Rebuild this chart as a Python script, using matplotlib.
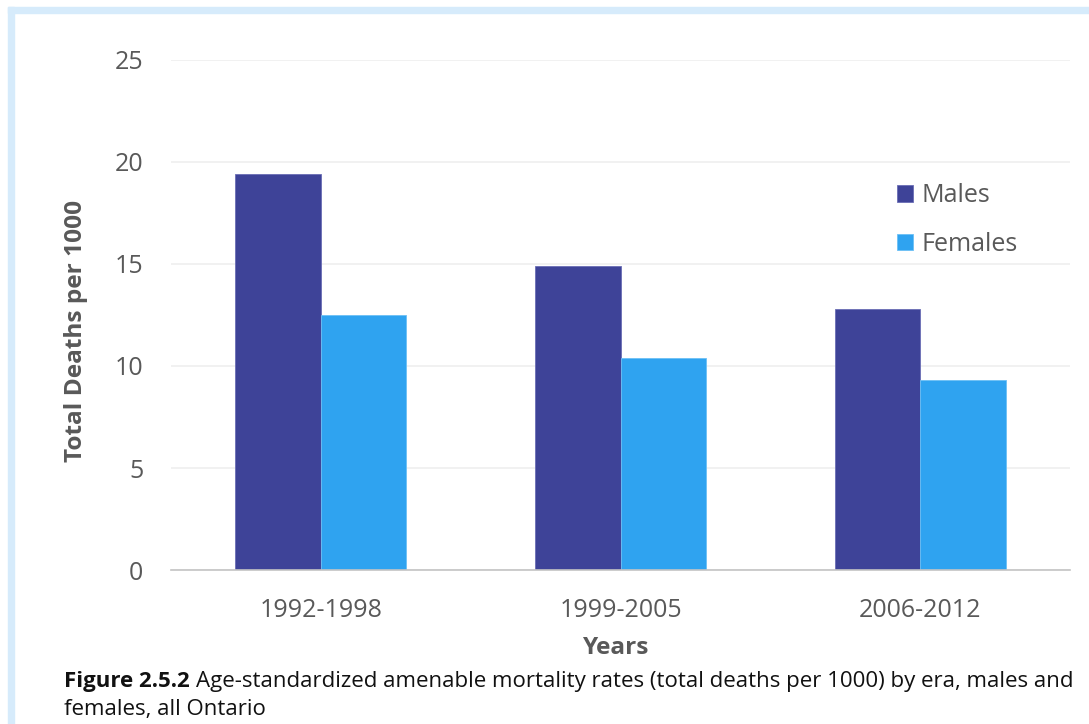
import matplotlib.pyplot as plt
import numpy as np
from matplotlib.patches import Rectangle

plt.rcParams['font.family'] = ['Open Sans', 'DejaVu Sans']

ERAS = ['1992-1998', '1999-2005', '2006-2012']
MALES = [19.4, 14.9, 12.8]
FEMALES = [12.5, 10.4, 9.3]
Y_TICKS = [0, 5, 10, 15, 20, 25]

MALE_COLOR = '#3e4398'
FEMALE_COLOR = '#2fa3f0'
TEXT_GREY = '#595959'
FRAME_COLOR = '#d6ebfb'

W, H = 1089, 724
fig = plt.figure(figsize=(W / 100, H / 100), dpi=100)

# light blue frame, only top and left visible
fig.patches.append(Rectangle((8 / W, 0), 6 / W, (H - 7) / H, transform=fig.transFigure,
                             color=FRAME_COLOR, zorder=0))
fig.patches.append(Rectangle((8 / W, (H - 13) / H), 1, 6 / H, transform=fig.transFigure,
                             color=FRAME_COLOR, zorder=0))

left, right, top, bottom = 171, 1070, 60, 570
ax = fig.add_axes([left / W, (H - bottom) / H, (right - left) / W, (bottom - top) / H])

x = np.arange(len(ERAS))
width = 0.285
ax.bar(x - width / 2, MALES, width, color=MALE_COLOR, edgecolor='#6a6db5', linewidth=0.6,
       label='Males', zorder=3)
ax.bar(x + width / 2, FEMALES, width, color=FEMALE_COLOR, edgecolor='#6cc0f5', linewidth=0.6,
       label='Females', zorder=3)

ax.set_xlim(-0.5, len(ERAS) - 0.5)
ax.set_ylim(0, 25)
ax.set_yticks(Y_TICKS)
ax.set_xticks(x)
ax.set_xticklabels(ERAS)
ax.tick_params(axis='both', length=0, labelsize=18, labelcolor=TEXT_GREY)
ax.tick_params(axis='y', pad=20)
ax.tick_params(axis='x', pad=20)
ax.grid(axis='y', color='#efefef', linewidth=1.2, zorder=0)
for s in ['top', 'right', 'left']:
    ax.spines[s].set_visible(False)
ax.spines['bottom'].set_color('#c4c4c4')
ax.spines['bottom'].set_linewidth(1.2)
ax.spines['bottom'].set_zorder(4)

fig.text(76 / W, 1 - 331 / H, 'Total Deaths per 1000', rotation=90, ha='center', va='center',
         fontsize=17.6, fontweight='bold', color=TEXT_GREY)
fig.text(615 / W, 1 - 648 / H, 'Years', ha='center', va='center',
         fontsize=17.6, fontweight='bold', color=TEXT_GREY)

leg = ax.legend(loc='upper left', bbox_to_anchor=(897 / W, 1 - 183 / H),
                bbox_transform=fig.transFigure, frameon=False, fontsize=18,
                handlelength=0.65, handleheight=0.65, handletextpad=0.35,
                labelspacing=0.95, borderpad=0, borderaxespad=0)
for t in leg.get_texts():
    t.set_color(TEXT_GREY)

# caption, bold lead then regular text
cap = fig.text(64 / W, 1 - 681 / H, 'Figure 2.5.2', fontsize=16, fontweight='bold',
               color='#111111', va='center', ha='left')
fig.canvas.draw()
bb = cap.get_window_extent()
fig.text((bb.x1 + 6) / W, 1 - 681 / H,
         'Age-standardized amenable mortality rates (total deaths per 1000) by era, males and',
         fontsize=16, color='#111111', va='center', ha='left')
fig.text(64 / W, 1 - 709 / H, 'females, all Ontario', fontsize=16, color='#111111',
         va='center', ha='left')

fig.savefig('out.png', dpi=100)
